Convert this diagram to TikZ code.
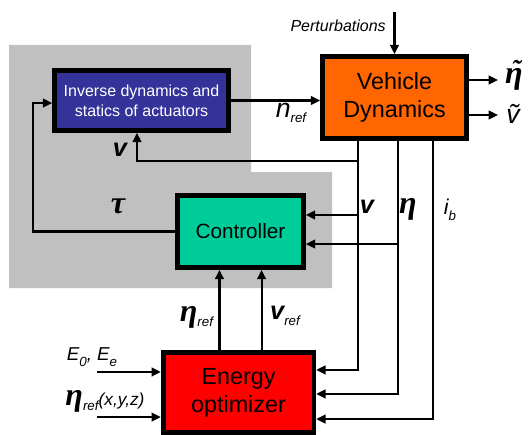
\documentclass[tikz,border=0pt]{standalone}
\usepackage{fontspec}
\setmainfont{Liberation Sans}
\newfontfamily\grk{Liberation Serif}
\usetikzlibrary{arrows.meta,positioning,calc}
\definecolor{invblue}{RGB}{51,51,153}
\definecolor{vehorange}{RGB}{255,102,0}
\definecolor{ctrlteal}{RGB}{0,204,153}
\definecolor{enred}{RGB}{255,0,0}
\definecolor{loopgray}{RGB}{192,192,192}
\newcommand{\reflow}[1]{\raisebox{-4pt}{\fontsize{10}{10}\selectfont\mdseries\textit{#1}}}
\newcommand{\bgrk}[1]{{\grk\bfseries\itshape #1}}

\begin{document}
\begin{tikzpicture}[x=0.75pt,y=-0.75pt,
  block/.style={rectangle,draw=black,line width=3.5pt,align=center,inner sep=1pt},
  arrow/.style={-{Triangle[length=7pt,width=6.5pt]},line width=1.6pt},
  lbl/.style={inner sep=0pt,font=\fontsize{19}{20}\selectfont\bfseries\itshape},
  glbl/.style={inner sep=0pt,font=\fontsize{24}{24}\selectfont},
  sig/.style={inner sep=0pt,font=\fontsize{12}{14}\selectfont\itshape},
]
\useasboundingbox (0,0) rectangle (528,435);
% gray loop region
\fill[loopgray] (9,45) -- (251,45) -- (251,172) -- (332,172) -- (332,288) -- (9,288) -- cycle;

\node[block,fill=invblue,text=white,minimum width=130.5pt,minimum height=45pt,
      font=\fontsize{12}{15}\selectfont] (inv) at (141.5,100.5) {Inverse dynamics and\\statics of actuators};
\node[block,fill=vehorange,minimum width=108pt,minimum height=61.5pt,
      font=\fontsize{17.5}{21}\selectfont] (veh) at (394.5,97.5) {Vehicle\\Dynamics};
\node[block,fill=ctrlteal,minimum width=94.5pt,minimum height=54pt,
      font=\fontsize{15.5}{18}\selectfont] (ctrl) at (240.5,231.5) {Controller};
\node[block,fill=enred,minimum width=113pt,minimum height=60pt,
      font=\fontsize{17.5}{21}\selectfont] (en) at (238.5,392.5) {Energy\\optimizer};

% outputs and inputs
\node[sig,anchor=east] (pertl) at (386,26) {Perturbations};
\coordinate (pert) at (394.5,12);
\node[glbl] (etat) at (514,76) {\ooalign{\bgrk{η}\cr\hidewidth\kern3pt\raisebox{4pt}{\fontsize{20}{20}\selectfont\bgrk{\char"02DC}}\hidewidth\cr}};
\node[inner sep=0pt,font=\fontsize{20}{20}\selectfont\itshape] (vt) at (513,114) {\~{v}};
\coordinate (oe) at (498,80);
\coordinate (ov) at (498,115);

% line positions
\coordinate (xv) at (358,0);
\coordinate (xe) at (398,0);
\coordinate (xi) at (433,0);
\coordinate (xt) at (33,0);
\coordinate (xin) at (97,0);
\coordinate (bv) at (358,161);
\coordinate (iv) at ([xshift=-3.4pt]inv.south);
\coordinate (cv) at ([yshift=12.4pt]ctrl.east);
\coordinate (ce) at ([yshift=-9.4pt]ctrl.east);
\coordinate (ev) at ([yshift=16.9pt]en.east);
\coordinate (ee) at ([yshift=-1.1pt]en.east);
\coordinate (ei) at ([yshift=-19.9pt]en.east);
\coordinate (eo1) at ([xshift=-14.3pt]en.north);
\coordinate (eo2) at ([xshift=17.3pt]en.north);
\coordinate (ein1) at ([yshift=15.4pt]en.west);
\coordinate (ein2) at ([yshift=-18.4pt]en.west);
\coordinate (ti) at ([yshift=-1.9pt]inv.west);

\draw[arrow] (pert) -- (veh.north);
\draw[arrow] (inv.east) -- (inv.east -| veh.west);
\draw[arrow] (veh.east |- oe) -- (oe);
\draw[arrow] (veh.east |- ov) -- (ov);
\draw[arrow] (veh.south -| xv) |- (ev);
\draw[arrow] (veh.south -| xe) |- (ee);
\draw[arrow] (veh.south -| xi) |- (ei);
\draw[arrow] (bv) -| (iv);
\draw[arrow] (cv -| xv) -- (cv);
\draw[arrow] (ce -| xe) -- (ce);
\draw[arrow] (ctrl.west) -| (xt |- ti) -- (ti);
\draw[arrow] (eo1) -- (eo1 |- ctrl.south);
\draw[arrow] (eo2) -- (eo2 |- ctrl.south);
\draw[arrow] (ein1 -| xin) -- (ein1);
\draw[arrow] (ein2 -| xin) -- (ein2);

% signal labels
\node[inner sep=0pt,font=\fontsize{20}{20}\selectfont\itshape] (nref) at (291,113) {n\reflow{ref}};
\node[lbl] (vinv) at (120,150) {v};
\node[glbl] (tau) at (118,206) {\bgrk{τ}};
\node[lbl] (vc) at (367,207) {v};
\node[glbl] (etac) at (408,209) {\bgrk{η}};
\node[inner sep=0pt,font=\fontsize{16}{18}\selectfont\itshape] (ib) at (450,210) {i\reflow{b}};
\node[glbl] (etaref) at (197,317) {\bgrk{η}\reflow{ref}};
\node[lbl] (vref) at (285,316) {v\reflow{ref}};
\node[inner sep=0pt,font=\fontsize{14}{15}\selectfont\itshape] (eo) at (92,357) {E\reflow{0}, E\reflow{e}};
\node[inner sep=0pt,font=\fontsize{13}{15}\selectfont\itshape] (etaxyz) at (105,401) {{\fontsize{24}{24}\selectfont\bgrk{η}}\reflow{ref}(x,y,z)};
\end{tikzpicture}
\end{document}
